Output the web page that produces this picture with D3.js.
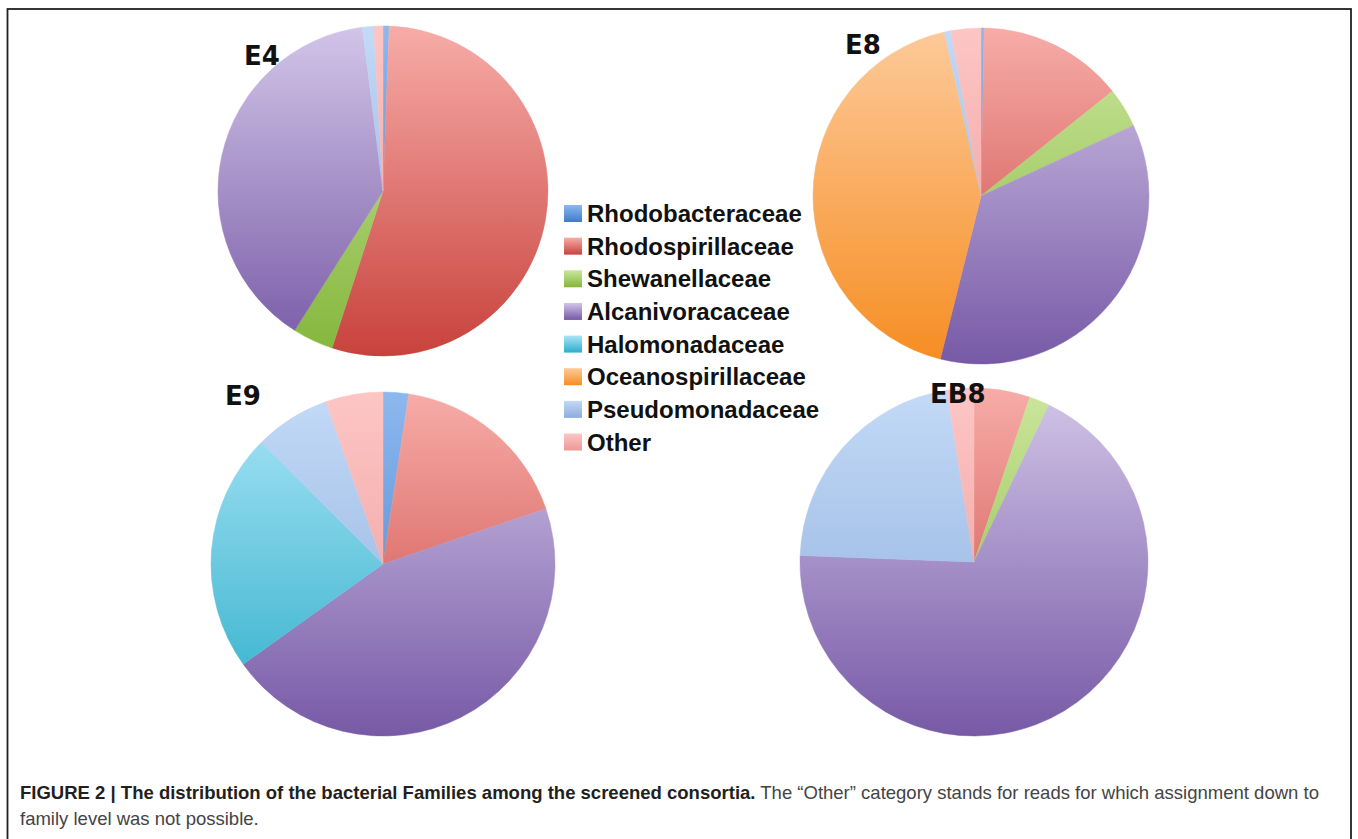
<!DOCTYPE html>
<html>
<head>
<meta charset="utf-8">
<script src="https://cdn.jsdelivr.net/npm/d3@7"></script>
<style>
  html, body { margin: 0; padding: 0; background: #ffffff; }
  svg { display: block; }
</style>
</head>
<body>
<svg id="chart" width="1358" height="839"></svg>
<script>
// ---------------- DATA ----------------
const categories = ["Rhodobacteraceae", "Rhodospirillaceae", "Shewanellaceae", "Alcanivoracaceae",
                    "Halomonadaceae", "Oceanospirillaceae", "Pseudomonadaceae", "Other"];
const sampleNames = ["E4", "E8", "E9", "EB8"];
// percentage of reads per family
const valuesE4  = [0.6, 54.4, 4.0, 39.0, 0, 0, 1.1, 0.9];
const valuesE8  = [0.3, 14.0, 3.8, 35.8, 0, 42.6, 0.6, 2.9];
const valuesE9  = [2.4, 17.4, 0, 45.3, 22.4, 0, 7.1, 5.4];
const valuesEB8 = [0, 5.2, 1.9, 68.5, 0, 0, 21.9, 2.5];
const sampleValues = [valuesE4, valuesE8, valuesE9, valuesEB8];
const captionBold = "FIGURE 2 | The distribution of the bacterial Families among the screened consortia.";
const captionRest1 = " The \u201cOther\u201d category stands for reads for which assignment down to";
const captionLine2 = "family level was not possible.";

// ---------------- STYLE / LAYOUT ----------------
const colorTop    = ["#8db8ef", "#f7aca8", "#cbe69c", "#d2c5e8", "#aae5f7", "#fdca9a", "#c3daf7", "#fcc6c5"];
const colorBottom = ["#3f7cc6", "#c8423d", "#84b63c", "#7759a6", "#2cadc9", "#f68d22", "#8cacdb", "#ec9896"];
const pieLayout = [
  {cx: 383, cy: 191, r: 165, lx: 244, ly: 65},
  {cx: 981, cy: 196, r: 168, lx: 845, ly: 54},
  {cx: 383, cy: 564, r: 172, lx: 225, ly: 405},
  {cx: 974, cy: 562, r: 174, lx: 930, ly: 403}
];

const svg = d3.select("#chart");
const defs = svg.append("defs");
defs.append("filter").attr("id", "soft")
  .append("feGaussianBlur").attr("stdDeviation", 0.6);

// frame
svg.append("rect")
  .attr("x", 7.5).attr("y", 9).attr("width", 1343.5).attr("height", 900)
  .attr("fill", "none").attr("stroke", "#231f20").attr("stroke-width", 1.8);

const color = d3.scaleOrdinal().domain(categories).range(d3.range(categories.length));
const pie = d3.pie().sort(null).value(d => d.value).startAngle(0).endAngle(2 * Math.PI);

sampleNames.forEach((name, si) => {
  const L = pieLayout[si];
  // gradients spanning the whole pie vertically (in the pie group's own coordinates)
  categories.forEach((c, ci) => {
    const g = defs.append("linearGradient")
      .attr("id", `g-${si}-${ci}`)
      .attr("gradientUnits", "userSpaceOnUse")
      .attr("x1", 0).attr("x2", 0)
      .attr("y1", -L.r).attr("y2", L.r);
    g.append("stop").attr("offset", "0%").attr("stop-color", colorTop[ci]);
    g.append("stop").attr("offset", "100%").attr("stop-color", colorBottom[ci]);
  });
  const data = categories.map((c, i) => ({cat: c, value: sampleValues[si][i]}));
  const arc = d3.arc().innerRadius(0).outerRadius(L.r);
  const g = svg.append("g")
    .attr("transform", `translate(${L.cx},${L.cy})`)
    .attr("filter", "url(#soft)");
  g.selectAll("path")
    .data(pie(data).filter(d => d.data.value > 0))
    .join("path")
    .attr("d", arc)
    .attr("fill", d => `url(#g-${si}-${color(d.data.cat)})`)
    .attr("stroke", d => `url(#g-${si}-${color(d.data.cat)})`)
    .attr("stroke-width", 0.5);

  svg.append("text")
    .attr("x", L.lx).attr("y", L.ly)
    .attr("font-family", "'DejaVu Sans', sans-serif")
    .attr("font-weight", "bold")
    .attr("font-size", 26)
    .attr("fill", "#111")
    .text(name);
});

// legend
const legendY = d3.scaleLinear().domain([0, categories.length - 1]).range([213.5, 442]);
categories.forEach((c, ci) => {
  const lg = defs.append("linearGradient")
    .attr("id", `lg-${ci}`).attr("x1", 0).attr("x2", 0).attr("y1", 0).attr("y2", 1);
  lg.append("stop").attr("offset", "0%").attr("stop-color", colorTop[ci]);
  lg.append("stop").attr("offset", "100%").attr("stop-color", colorBottom[ci]);
});
const legend = svg.append("g");
const rows = legend.selectAll("g").data(categories).join("g")
  .attr("transform", d => `translate(0,${legendY(categories.indexOf(d))})`);
rows.append("rect")
  .attr("x", 564).attr("y", -8.5).attr("width", 18).attr("height", 17)
  .attr("fill", d => `url(#lg-${color(d)})`);
rows.append("text")
  .attr("x", 587).attr("y", 8.6)
  .attr("font-family", "'Liberation Sans', Arial, sans-serif")
  .attr("font-weight", "bold")
  .attr("font-size", 24)
  .attr("fill", "#111")
  .text(d => d);

// caption
const cap = svg.append("g").attr("font-family", "'Liberation Sans Narrow', 'Liberation Sans', Arial, sans-serif")
  .attr("font-size", 18);
const t1 = cap.append("text").attr("x", 0).attr("y", 0);
t1.append("tspan").attr("font-weight", "bold").attr("fill", "#231f20").text(captionBold);
t1.append("tspan").attr("fill", "#444").text(captionRest1);
const t2 = cap.append("text").attr("x", 0).attr("y", 0).attr("fill", "#444").text(captionLine2);
const natural = t1.node().getComputedTextLength();
const sx = 1300 / natural;
t1.attr("transform", `translate(20,799) scale(${sx},1)`);
t2.attr("transform", `translate(20,825) scale(${sx},1)`);
</script>
</body>
</html>
